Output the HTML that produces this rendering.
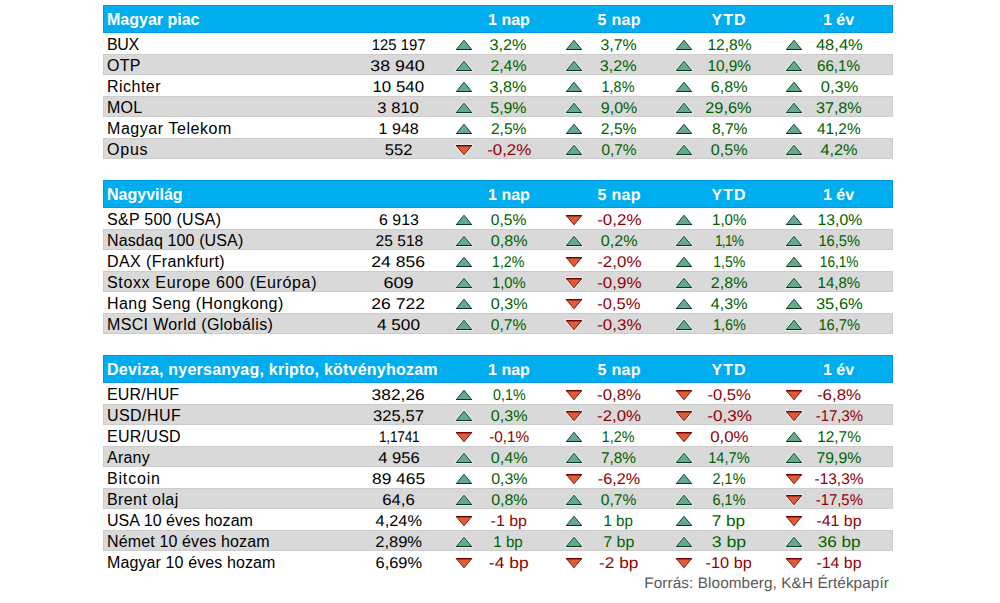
<!DOCTYPE html>
<html><head><meta charset="utf-8"><style>
*{margin:0;padding:0;box-sizing:border-box}
html,body{width:1000px;height:603px;background:#fff;overflow:hidden}
body{position:relative;font-family:"Liberation Sans",sans-serif;font-size:16px;color:#000}
.h{position:absolute;left:103px;width:790px;height:28px;background:#00aeef;border:1px solid #0097e6}
.g{position:absolute;left:103px;width:790px;height:21px;background:#d9d9d9;border:1px solid #cccccc}
.t{position:absolute;white-space:nowrap;line-height:20px;height:20px}
.c{width:200px;text-align:center;font-size:15.5px;text-rendering:geometricPrecision}
.b{font-weight:bold;color:#fff;font-size:16px}
.up{color:#006100}
.dn{color:#900005}
svg{position:absolute}
</style></head>
<body>
<div class="h" style="top:5px"></div>
<div class="t b" style="left:107px;top:10.46px;letter-spacing:0px">Magyar piac</div>
<div class="t c b" style="left:409px;top:11.46px;letter-spacing:0px;text-indent:0px">1 nap</div>
<div class="t c b" style="left:519px;top:11.46px;letter-spacing:0.3px;text-indent:0.3px">5 nap</div>
<div class="t c b" style="left:628.5px;top:11.46px;letter-spacing:1.0px;text-indent:1.0px">YTD</div>
<div class="t c b" style="left:738.5px;top:11.46px;letter-spacing:0px;text-indent:0px">1 év</div>
<div class="t" style="left:107px;top:35.26px;letter-spacing:-0.35px">BUX</div>
<div class="t c" style="left:298px;top:36.03px;transform-origin:100.50px 15.37px;transform:translateX(0.55px) scaleX(0.958)">125 197</div>
<svg style="left:455.00px;top:38px" width="18" height="14" viewBox="-1 -1 18 14"><path d="M8 1.2 L15.6 10.5 L0.4 10.5 Z" fill="none" stroke="#fff" stroke-opacity="0.55" stroke-width="2.6"/><path d="M8 1.2 L15.6 10.5 L0.4 10.5 Z" fill="#68a88c" stroke="#0b4f2e" stroke-width="1"/><path d="M0.2 10.5 H15.8" stroke="#003d20" stroke-width="1"/></svg>
<div class="t c up" style="left:409px;top:36.03px;transform-origin:100.50px 15.37px;transform:translateX(-1.05px) scaleX(1.049)">3,2%</div>
<svg style="left:565.00px;top:38px" width="18" height="14" viewBox="-1 -1 18 14"><path d="M8 1.2 L15.6 10.5 L0.4 10.5 Z" fill="none" stroke="#fff" stroke-opacity="0.55" stroke-width="2.6"/><path d="M8 1.2 L15.6 10.5 L0.4 10.5 Z" fill="#68a88c" stroke="#0b4f2e" stroke-width="1"/><path d="M0.2 10.5 H15.8" stroke="#003d20" stroke-width="1"/></svg>
<div class="t c up" style="left:519px;top:36.03px;transform-origin:100.50px 15.37px;transform:translateX(-0.50px) scaleX(1.023)">3,7%</div>
<svg style="left:675.00px;top:38px" width="18" height="14" viewBox="-1 -1 18 14"><path d="M8 1.2 L15.6 10.5 L0.4 10.5 Z" fill="none" stroke="#fff" stroke-opacity="0.55" stroke-width="2.6"/><path d="M8 1.2 L15.6 10.5 L0.4 10.5 Z" fill="#68a88c" stroke="#0b4f2e" stroke-width="1"/><path d="M0.2 10.5 H15.8" stroke="#003d20" stroke-width="1"/></svg>
<div class="t c up" style="left:628.5px;top:36.03px;transform-origin:100.00px 15.37px;transform:translateX(0.50px) scaleX(1.005)">12,8%</div>
<svg style="left:785.00px;top:38px" width="18" height="14" viewBox="-1 -1 18 14"><path d="M8 1.2 L15.6 10.5 L0.4 10.5 Z" fill="none" stroke="#fff" stroke-opacity="0.55" stroke-width="2.6"/><path d="M8 1.2 L15.6 10.5 L0.4 10.5 Z" fill="#68a88c" stroke="#0b4f2e" stroke-width="1"/><path d="M0.2 10.5 H15.8" stroke="#003d20" stroke-width="1"/></svg>
<div class="t c up" style="left:738.5px;top:36.03px;transform-origin:100.00px 15.37px;transform:translateX(0.35px) scaleX(1.067)">48,4%</div>
<div class="g" style="top:54px"></div>
<div class="t" style="left:107px;top:56.26px;letter-spacing:0.30px">OTP</div>
<div class="t c" style="left:298px;top:57.03px;transform-origin:100.50px 15.37px;transform:translateX(-0.40px) scaleX(1.145)">38 940</div>
<svg style="left:455.00px;top:59px" width="18" height="14" viewBox="-1 -1 18 14"><path d="M8 1.2 L15.6 10.5 L0.4 10.5 Z" fill="none" stroke="#fff" stroke-opacity="0.55" stroke-width="2.6"/><path d="M8 1.2 L15.6 10.5 L0.4 10.5 Z" fill="#68a88c" stroke="#0b4f2e" stroke-width="1"/><path d="M0.2 10.5 H15.8" stroke="#003d20" stroke-width="1"/></svg>
<div class="t c up" style="left:409px;top:57.03px;transform-origin:100.00px 15.37px;transform:translateX(-0.55px) scaleX(1.019)">2,4%</div>
<svg style="left:565.00px;top:59px" width="18" height="14" viewBox="-1 -1 18 14"><path d="M8 1.2 L15.6 10.5 L0.4 10.5 Z" fill="none" stroke="#fff" stroke-opacity="0.55" stroke-width="2.6"/><path d="M8 1.2 L15.6 10.5 L0.4 10.5 Z" fill="#68a88c" stroke="#0b4f2e" stroke-width="1"/><path d="M0.2 10.5 H15.8" stroke="#003d20" stroke-width="1"/></svg>
<div class="t c up" style="left:519px;top:57.03px;transform-origin:100.50px 15.37px;transform:translateX(-0.80px) scaleX(1.040)">3,2%</div>
<svg style="left:675.00px;top:59px" width="18" height="14" viewBox="-1 -1 18 14"><path d="M8 1.2 L15.6 10.5 L0.4 10.5 Z" fill="none" stroke="#fff" stroke-opacity="0.55" stroke-width="2.6"/><path d="M8 1.2 L15.6 10.5 L0.4 10.5 Z" fill="#68a88c" stroke="#0b4f2e" stroke-width="1"/><path d="M0.2 10.5 H15.8" stroke="#003d20" stroke-width="1"/></svg>
<div class="t c up" style="left:628.5px;top:57.03px;transform-origin:100.50px 15.37px;transform:translateX(0.20px) scaleX(0.991)">10,9%</div>
<svg style="left:785.00px;top:59px" width="18" height="14" viewBox="-1 -1 18 14"><path d="M8 1.2 L15.6 10.5 L0.4 10.5 Z" fill="none" stroke="#fff" stroke-opacity="0.55" stroke-width="2.6"/><path d="M8 1.2 L15.6 10.5 L0.4 10.5 Z" fill="#68a88c" stroke="#0b4f2e" stroke-width="1"/><path d="M0.2 10.5 H15.8" stroke="#003d20" stroke-width="1"/></svg>
<div class="t c up" style="left:738.5px;top:57.03px;transform-origin:100.50px 15.37px;transform:translateX(-0.50px) scaleX(0.982)">66,1%</div>
<div class="t" style="left:107px;top:77.26px;letter-spacing:0.48px">Richter</div>
<div class="t c" style="left:298px;top:78.03px;transform-origin:100.00px 15.37px;transform:translateX(0.25px) scaleX(1.089)">10 540</div>
<svg style="left:455.00px;top:80px" width="18" height="14" viewBox="-1 -1 18 14"><path d="M8 1.2 L15.6 10.5 L0.4 10.5 Z" fill="none" stroke="#fff" stroke-opacity="0.55" stroke-width="2.6"/><path d="M8 1.2 L15.6 10.5 L0.4 10.5 Z" fill="#68a88c" stroke="#0b4f2e" stroke-width="1"/><path d="M0.2 10.5 H15.8" stroke="#003d20" stroke-width="1"/></svg>
<div class="t c up" style="left:409px;top:78.03px;transform-origin:100.50px 15.37px;transform:translateX(-1.05px) scaleX(1.049)">3,8%</div>
<svg style="left:565.00px;top:80px" width="18" height="14" viewBox="-1 -1 18 14"><path d="M8 1.2 L15.6 10.5 L0.4 10.5 Z" fill="none" stroke="#fff" stroke-opacity="0.55" stroke-width="2.6"/><path d="M8 1.2 L15.6 10.5 L0.4 10.5 Z" fill="#68a88c" stroke="#0b4f2e" stroke-width="1"/><path d="M0.2 10.5 H15.8" stroke="#003d20" stroke-width="1"/></svg>
<div class="t c up" style="left:519px;top:78.03px;transform-origin:100.50px 15.37px;transform:translateX(-1.00px) scaleX(0.931)">1,8%</div>
<svg style="left:675.00px;top:80px" width="18" height="14" viewBox="-1 -1 18 14"><path d="M8 1.2 L15.6 10.5 L0.4 10.5 Z" fill="none" stroke="#fff" stroke-opacity="0.55" stroke-width="2.6"/><path d="M8 1.2 L15.6 10.5 L0.4 10.5 Z" fill="#68a88c" stroke="#0b4f2e" stroke-width="1"/><path d="M0.2 10.5 H15.8" stroke="#003d20" stroke-width="1"/></svg>
<div class="t c up" style="left:628.5px;top:78.03px;transform-origin:100.00px 15.37px;transform:translateX(0.15px) scaleX(1.037)">6,8%</div>
<svg style="left:785.00px;top:80px" width="18" height="14" viewBox="-1 -1 18 14"><path d="M8 1.2 L15.6 10.5 L0.4 10.5 Z" fill="none" stroke="#fff" stroke-opacity="0.55" stroke-width="2.6"/><path d="M8 1.2 L15.6 10.5 L0.4 10.5 Z" fill="#68a88c" stroke="#0b4f2e" stroke-width="1"/><path d="M0.2 10.5 H15.8" stroke="#003d20" stroke-width="1"/></svg>
<div class="t c up" style="left:738.5px;top:78.03px;transform-origin:100.00px 15.37px;transform:translateX(0.55px) scaleX(1.060)">0,3%</div>
<div class="g" style="top:96px"></div>
<div class="t" style="left:107px;top:98.26px;letter-spacing:0.25px">MOL</div>
<div class="t c" style="left:298px;top:99.03px;transform-origin:100.00px 15.37px;transform:translateX(0.10px) scaleX(1.068)">3 810</div>
<svg style="left:455.00px;top:101px" width="18" height="14" viewBox="-1 -1 18 14"><path d="M8 1.2 L15.6 10.5 L0.4 10.5 Z" fill="none" stroke="#fff" stroke-opacity="0.55" stroke-width="2.6"/><path d="M8 1.2 L15.6 10.5 L0.4 10.5 Z" fill="#68a88c" stroke="#0b4f2e" stroke-width="1"/><path d="M0.2 10.5 H15.8" stroke="#003d20" stroke-width="1"/></svg>
<div class="t c up" style="left:409px;top:99.03px;transform-origin:100.50px 15.37px;transform:translateX(-0.60px) scaleX(1.023)">5,9%</div>
<svg style="left:565.00px;top:101px" width="18" height="14" viewBox="-1 -1 18 14"><path d="M8 1.2 L15.6 10.5 L0.4 10.5 Z" fill="none" stroke="#fff" stroke-opacity="0.55" stroke-width="2.6"/><path d="M8 1.2 L15.6 10.5 L0.4 10.5 Z" fill="#68a88c" stroke="#0b4f2e" stroke-width="1"/><path d="M0.2 10.5 H15.8" stroke="#003d20" stroke-width="1"/></svg>
<div class="t c up" style="left:519px;top:99.03px;transform-origin:100.00px 15.37px;transform:translateX(0.05px) scaleX(1.031)">9,0%</div>
<svg style="left:675.00px;top:101px" width="18" height="14" viewBox="-1 -1 18 14"><path d="M8 1.2 L15.6 10.5 L0.4 10.5 Z" fill="none" stroke="#fff" stroke-opacity="0.55" stroke-width="2.6"/><path d="M8 1.2 L15.6 10.5 L0.4 10.5 Z" fill="#68a88c" stroke="#0b4f2e" stroke-width="1"/><path d="M0.2 10.5 H15.8" stroke="#003d20" stroke-width="1"/></svg>
<div class="t c up" style="left:628.5px;top:99.03px;transform-origin:100.50px 15.37px;transform:translateX(-0.55px) scaleX(1.052)">29,6%</div>
<svg style="left:785.00px;top:101px" width="18" height="14" viewBox="-1 -1 18 14"><path d="M8 1.2 L15.6 10.5 L0.4 10.5 Z" fill="none" stroke="#fff" stroke-opacity="0.55" stroke-width="2.6"/><path d="M8 1.2 L15.6 10.5 L0.4 10.5 Z" fill="#68a88c" stroke="#0b4f2e" stroke-width="1"/><path d="M0.2 10.5 H15.8" stroke="#003d20" stroke-width="1"/></svg>
<div class="t c up" style="left:738.5px;top:99.03px;transform-origin:100.50px 15.37px;transform:translateX(-0.15px) scaleX(1.043)">37,8%</div>
<div class="t" style="left:107px;top:119.26px;letter-spacing:0.56px">Magyar Telekom</div>
<div class="t c" style="left:298px;top:120.03px;transform-origin:100.00px 15.37px;transform:translateX(0.70px) scaleX(1.037)">1 948</div>
<svg style="left:455.00px;top:122px" width="18" height="14" viewBox="-1 -1 18 14"><path d="M8 1.2 L15.6 10.5 L0.4 10.5 Z" fill="none" stroke="#fff" stroke-opacity="0.55" stroke-width="2.6"/><path d="M8 1.2 L15.6 10.5 L0.4 10.5 Z" fill="#68a88c" stroke="#0b4f2e" stroke-width="1"/><path d="M0.2 10.5 H15.8" stroke="#003d20" stroke-width="1"/></svg>
<div class="t c up" style="left:409px;top:120.03px;transform-origin:100.50px 15.37px;transform:translateX(-0.30px) scaleX(1.006)">2,5%</div>
<svg style="left:565.00px;top:122px" width="18" height="14" viewBox="-1 -1 18 14"><path d="M8 1.2 L15.6 10.5 L0.4 10.5 Z" fill="none" stroke="#fff" stroke-opacity="0.55" stroke-width="2.6"/><path d="M8 1.2 L15.6 10.5 L0.4 10.5 Z" fill="#68a88c" stroke="#0b4f2e" stroke-width="1"/><path d="M0.2 10.5 H15.8" stroke="#003d20" stroke-width="1"/></svg>
<div class="t c up" style="left:519px;top:120.03px;transform-origin:100.50px 15.37px;transform:translateX(-0.30px) scaleX(1.011)">2,5%</div>
<svg style="left:675.00px;top:122px" width="18" height="14" viewBox="-1 -1 18 14"><path d="M8 1.2 L15.6 10.5 L0.4 10.5 Z" fill="none" stroke="#fff" stroke-opacity="0.55" stroke-width="2.6"/><path d="M8 1.2 L15.6 10.5 L0.4 10.5 Z" fill="#68a88c" stroke="#0b4f2e" stroke-width="1"/><path d="M0.2 10.5 H15.8" stroke="#003d20" stroke-width="1"/></svg>
<div class="t c up" style="left:628.5px;top:120.03px;transform-origin:100.00px 15.37px;transform:translateX(0.70px) scaleX(1.006)">8,7%</div>
<svg style="left:785.00px;top:122px" width="18" height="14" viewBox="-1 -1 18 14"><path d="M8 1.2 L15.6 10.5 L0.4 10.5 Z" fill="none" stroke="#fff" stroke-opacity="0.55" stroke-width="2.6"/><path d="M8 1.2 L15.6 10.5 L0.4 10.5 Z" fill="#68a88c" stroke="#0b4f2e" stroke-width="1"/><path d="M0.2 10.5 H15.8" stroke="#003d20" stroke-width="1"/></svg>
<div class="t c up" style="left:738.5px;top:120.03px;transform-origin:100.00px 15.37px;transform:translateX(-0.20px) scaleX(0.995)">41,2%</div>
<div class="g" style="top:138px"></div>
<div class="t" style="left:107px;top:140.26px;letter-spacing:0.77px">Opus</div>
<div class="t c" style="left:298px;top:141.03px;transform-origin:100.00px 15.37px;transform:translateX(0.60px) scaleX(1.069)">552</div>
<svg style="left:455.00px;top:143px" width="18" height="14" viewBox="-1 -1 18 14"><path d="M0.4 1.6 L15.6 1.6 L8 10.8 Z" fill="none" stroke="#f4ffff" stroke-opacity="0.7" stroke-width="2.8"/><path d="M0.4 1.6 L15.6 1.6 L8 10.8 Z" fill="#de5c38" stroke="#7e1608" stroke-width="1"/><path d="M0.2 1.7 H15.8" stroke="#700000" stroke-width="1.35"/></svg>
<div class="t c dn" style="left:409px;top:141.03px;transform-origin:100.00px 15.37px;transform:translateX(0.20px) scaleX(1.090)">-0,2%</div>
<svg style="left:565.00px;top:143px" width="18" height="14" viewBox="-1 -1 18 14"><path d="M8 1.2 L15.6 10.5 L0.4 10.5 Z" fill="none" stroke="#fff" stroke-opacity="0.55" stroke-width="2.6"/><path d="M8 1.2 L15.6 10.5 L0.4 10.5 Z" fill="#68a88c" stroke="#0b4f2e" stroke-width="1"/><path d="M0.2 10.5 H15.8" stroke="#003d20" stroke-width="1"/></svg>
<div class="t c up" style="left:519px;top:141.03px;transform-origin:100.00px 15.37px;transform:translateX(0.00px) scaleX(0.994)">0,7%</div>
<svg style="left:675.00px;top:143px" width="18" height="14" viewBox="-1 -1 18 14"><path d="M8 1.2 L15.6 10.5 L0.4 10.5 Z" fill="none" stroke="#fff" stroke-opacity="0.55" stroke-width="2.6"/><path d="M8 1.2 L15.6 10.5 L0.4 10.5 Z" fill="#68a88c" stroke="#0b4f2e" stroke-width="1"/><path d="M0.2 10.5 H15.8" stroke="#003d20" stroke-width="1"/></svg>
<div class="t c up" style="left:628.5px;top:141.03px;transform-origin:100.00px 15.37px;transform:translateX(0.15px) scaleX(1.037)">0,5%</div>
<svg style="left:785.00px;top:143px" width="18" height="14" viewBox="-1 -1 18 14"><path d="M8 1.2 L15.6 10.5 L0.4 10.5 Z" fill="none" stroke="#fff" stroke-opacity="0.55" stroke-width="2.6"/><path d="M8 1.2 L15.6 10.5 L0.4 10.5 Z" fill="#68a88c" stroke="#0b4f2e" stroke-width="1"/><path d="M0.2 10.5 H15.8" stroke="#003d20" stroke-width="1"/></svg>
<div class="t c up" style="left:738.5px;top:141.03px;transform-origin:100.00px 15.37px;transform:translateX(0.00px) scaleX(1.051)">4,2%</div>
<div class="h" style="top:180px"></div>
<div class="t b" style="left:107px;top:185.46px;letter-spacing:0px">Nagyvilág</div>
<div class="t c b" style="left:409px;top:186.46px;letter-spacing:0px;text-indent:0px">1 nap</div>
<div class="t c b" style="left:519px;top:186.46px;letter-spacing:0.3px;text-indent:0.3px">5 nap</div>
<div class="t c b" style="left:628.5px;top:186.46px;letter-spacing:1.0px;text-indent:1.0px">YTD</div>
<div class="t c b" style="left:738.5px;top:186.46px;letter-spacing:0px;text-indent:0px">1 év</div>
<div class="t" style="left:107px;top:210.26px;letter-spacing:0.27px">S&amp;P 500 (USA)</div>
<div class="t c" style="left:298px;top:211.03px;transform-origin:100.00px 15.37px;transform:translateX(0.95px) scaleX(1.024)">6 913</div>
<svg style="left:455.00px;top:213px" width="18" height="14" viewBox="-1 -1 18 14"><path d="M8 1.2 L15.6 10.5 L0.4 10.5 Z" fill="none" stroke="#fff" stroke-opacity="0.55" stroke-width="2.6"/><path d="M8 1.2 L15.6 10.5 L0.4 10.5 Z" fill="#68a88c" stroke="#0b4f2e" stroke-width="1"/><path d="M0.2 10.5 H15.8" stroke="#003d20" stroke-width="1"/></svg>
<div class="t c up" style="left:409px;top:211.03px;transform-origin:100.00px 15.37px;transform:translateX(-0.35px) scaleX(1.008)">0,5%</div>
<svg style="left:565.00px;top:213px" width="18" height="14" viewBox="-1 -1 18 14"><path d="M0.4 1.6 L15.6 1.6 L8 10.8 Z" fill="none" stroke="#f4ffff" stroke-opacity="0.7" stroke-width="2.8"/><path d="M0.4 1.6 L15.6 1.6 L8 10.8 Z" fill="#de5c38" stroke="#7e1608" stroke-width="1"/><path d="M0.2 1.7 H15.8" stroke="#700000" stroke-width="1.35"/></svg>
<div class="t c dn" style="left:519px;top:211.03px;transform-origin:100.00px 15.37px;transform:translateX(0.35px) scaleX(1.093)">-0,2%</div>
<svg style="left:675.00px;top:213px" width="18" height="14" viewBox="-1 -1 18 14"><path d="M8 1.2 L15.6 10.5 L0.4 10.5 Z" fill="none" stroke="#fff" stroke-opacity="0.55" stroke-width="2.6"/><path d="M8 1.2 L15.6 10.5 L0.4 10.5 Z" fill="#68a88c" stroke="#0b4f2e" stroke-width="1"/><path d="M0.2 10.5 H15.8" stroke="#003d20" stroke-width="1"/></svg>
<div class="t c up" style="left:628.5px;top:211.03px;transform-origin:100.50px 15.37px;transform:translateX(0.25px) scaleX(0.979)">1,0%</div>
<svg style="left:785.00px;top:213px" width="18" height="14" viewBox="-1 -1 18 14"><path d="M8 1.2 L15.6 10.5 L0.4 10.5 Z" fill="none" stroke="#fff" stroke-opacity="0.55" stroke-width="2.6"/><path d="M8 1.2 L15.6 10.5 L0.4 10.5 Z" fill="#68a88c" stroke="#0b4f2e" stroke-width="1"/><path d="M0.2 10.5 H15.8" stroke="#003d20" stroke-width="1"/></svg>
<div class="t c up" style="left:738.5px;top:211.03px;transform-origin:100.00px 15.37px;transform:translateX(0.85px) scaleX(1.016)">13,0%</div>
<div class="g" style="top:229px"></div>
<div class="t" style="left:107px;top:231.26px;letter-spacing:0.13px">Nasdaq 100 (USA)</div>
<div class="t c" style="left:298px;top:232.03px;transform-origin:99.50px 15.37px;transform:translateX(1.45px) scaleX(1.006)">25 518</div>
<svg style="left:455.00px;top:234px" width="18" height="14" viewBox="-1 -1 18 14"><path d="M8 1.2 L15.6 10.5 L0.4 10.5 Z" fill="none" stroke="#fff" stroke-opacity="0.55" stroke-width="2.6"/><path d="M8 1.2 L15.6 10.5 L0.4 10.5 Z" fill="#68a88c" stroke="#0b4f2e" stroke-width="1"/><path d="M0.2 10.5 H15.8" stroke="#003d20" stroke-width="1"/></svg>
<div class="t c up" style="left:409px;top:232.03px;transform-origin:100.00px 15.37px;transform:translateX(0.25px) scaleX(1.042)">0,8%</div>
<svg style="left:565.00px;top:234px" width="18" height="14" viewBox="-1 -1 18 14"><path d="M8 1.2 L15.6 10.5 L0.4 10.5 Z" fill="none" stroke="#fff" stroke-opacity="0.55" stroke-width="2.6"/><path d="M8 1.2 L15.6 10.5 L0.4 10.5 Z" fill="#68a88c" stroke="#0b4f2e" stroke-width="1"/><path d="M0.2 10.5 H15.8" stroke="#003d20" stroke-width="1"/></svg>
<div class="t c up" style="left:519px;top:232.03px;transform-origin:100.00px 15.37px;transform:translateX(0.25px) scaleX(1.042)">0,2%</div>
<svg style="left:675.00px;top:234px" width="18" height="14" viewBox="-1 -1 18 14"><path d="M8 1.2 L15.6 10.5 L0.4 10.5 Z" fill="none" stroke="#fff" stroke-opacity="0.55" stroke-width="2.6"/><path d="M8 1.2 L15.6 10.5 L0.4 10.5 Z" fill="#68a88c" stroke="#0b4f2e" stroke-width="1"/><path d="M0.2 10.5 H15.8" stroke="#003d20" stroke-width="1"/></svg>
<div class="t c up" style="left:628.5px;top:232.03px;transform-origin:100.44px 15.37px;transform:translateX(0.01px) scaleX(0.880);letter-spacing:-0.87px">1,1%</div>
<svg style="left:785.00px;top:234px" width="18" height="14" viewBox="-1 -1 18 14"><path d="M8 1.2 L15.6 10.5 L0.4 10.5 Z" fill="none" stroke="#fff" stroke-opacity="0.55" stroke-width="2.6"/><path d="M8 1.2 L15.6 10.5 L0.4 10.5 Z" fill="#68a88c" stroke="#0b4f2e" stroke-width="1"/><path d="M0.2 10.5 H15.8" stroke="#003d20" stroke-width="1"/></svg>
<div class="t c up" style="left:738.5px;top:232.03px;transform-origin:100.50px 15.37px;transform:translateX(0.25px) scaleX(0.948)">16,5%</div>
<div class="t" style="left:107px;top:252.26px;letter-spacing:0.40px">DAX (Frankfurt)</div>
<div class="t c" style="left:298px;top:253.03px;transform-origin:100.00px 15.37px;transform:translateX(0.10px) scaleX(1.130)">24 856</div>
<svg style="left:455.00px;top:255px" width="18" height="14" viewBox="-1 -1 18 14"><path d="M8 1.2 L15.6 10.5 L0.4 10.5 Z" fill="none" stroke="#fff" stroke-opacity="0.55" stroke-width="2.6"/><path d="M8 1.2 L15.6 10.5 L0.4 10.5 Z" fill="#68a88c" stroke="#0b4f2e" stroke-width="1"/><path d="M0.2 10.5 H15.8" stroke="#003d20" stroke-width="1"/></svg>
<div class="t c up" style="left:409px;top:253.03px;transform-origin:100.50px 15.37px;transform:translateX(-0.85px) scaleX(0.917)">1,2%</div>
<svg style="left:565.00px;top:255px" width="18" height="14" viewBox="-1 -1 18 14"><path d="M0.4 1.6 L15.6 1.6 L8 10.8 Z" fill="none" stroke="#f4ffff" stroke-opacity="0.7" stroke-width="2.8"/><path d="M0.4 1.6 L15.6 1.6 L8 10.8 Z" fill="#de5c38" stroke="#7e1608" stroke-width="1"/><path d="M0.2 1.7 H15.8" stroke="#700000" stroke-width="1.35"/></svg>
<div class="t c dn" style="left:519px;top:253.03px;transform-origin:100.00px 15.37px;transform:translateX(0.35px) scaleX(1.093)">-2,0%</div>
<svg style="left:675.00px;top:255px" width="18" height="14" viewBox="-1 -1 18 14"><path d="M8 1.2 L15.6 10.5 L0.4 10.5 Z" fill="none" stroke="#fff" stroke-opacity="0.55" stroke-width="2.6"/><path d="M8 1.2 L15.6 10.5 L0.4 10.5 Z" fill="#68a88c" stroke="#0b4f2e" stroke-width="1"/><path d="M0.2 10.5 H15.8" stroke="#003d20" stroke-width="1"/></svg>
<div class="t c up" style="left:628.5px;top:253.03px;transform-origin:100.50px 15.37px;transform:translateX(0.20px) scaleX(0.912)">1,5%</div>
<svg style="left:785.00px;top:255px" width="18" height="14" viewBox="-1 -1 18 14"><path d="M8 1.2 L15.6 10.5 L0.4 10.5 Z" fill="none" stroke="#fff" stroke-opacity="0.55" stroke-width="2.6"/><path d="M8 1.2 L15.6 10.5 L0.4 10.5 Z" fill="#68a88c" stroke="#0b4f2e" stroke-width="1"/><path d="M0.2 10.5 H15.8" stroke="#003d20" stroke-width="1"/></svg>
<div class="t c up" style="left:738.5px;top:253.03px;transform-origin:100.00px 15.37px;transform:translateX(0.15px) scaleX(0.881)">16,1%</div>
<div class="g" style="top:271px"></div>
<div class="t" style="left:107px;top:273.26px;letter-spacing:0.65px">Stoxx Europe 600 (Európa)</div>
<div class="t c" style="left:298px;top:274.03px;transform-origin:100.00px 15.37px;transform:translateX(0.45px) scaleX(1.165)">609</div>
<svg style="left:455.00px;top:276px" width="18" height="14" viewBox="-1 -1 18 14"><path d="M8 1.2 L15.6 10.5 L0.4 10.5 Z" fill="none" stroke="#fff" stroke-opacity="0.55" stroke-width="2.6"/><path d="M8 1.2 L15.6 10.5 L0.4 10.5 Z" fill="#68a88c" stroke="#0b4f2e" stroke-width="1"/><path d="M0.2 10.5 H15.8" stroke="#003d20" stroke-width="1"/></svg>
<div class="t c up" style="left:409px;top:274.03px;transform-origin:100.50px 15.37px;transform:translateX(-0.25px) scaleX(0.951)">1,0%</div>
<svg style="left:565.00px;top:276px" width="18" height="14" viewBox="-1 -1 18 14"><path d="M0.4 1.6 L15.6 1.6 L8 10.8 Z" fill="none" stroke="#f4ffff" stroke-opacity="0.7" stroke-width="2.8"/><path d="M0.4 1.6 L15.6 1.6 L8 10.8 Z" fill="#de5c38" stroke="#7e1608" stroke-width="1"/><path d="M0.2 1.7 H15.8" stroke="#700000" stroke-width="1.35"/></svg>
<div class="t c dn" style="left:519px;top:274.03px;transform-origin:100.00px 15.37px;transform:translateX(0.35px) scaleX(1.093)">-0,9%</div>
<svg style="left:675.00px;top:276px" width="18" height="14" viewBox="-1 -1 18 14"><path d="M8 1.2 L15.6 10.5 L0.4 10.5 Z" fill="none" stroke="#fff" stroke-opacity="0.55" stroke-width="2.6"/><path d="M8 1.2 L15.6 10.5 L0.4 10.5 Z" fill="#68a88c" stroke="#0b4f2e" stroke-width="1"/><path d="M0.2 10.5 H15.8" stroke="#003d20" stroke-width="1"/></svg>
<div class="t c up" style="left:628.5px;top:274.03px;transform-origin:100.00px 15.37px;transform:translateX(0.15px) scaleX(1.037)">2,8%</div>
<svg style="left:785.00px;top:276px" width="18" height="14" viewBox="-1 -1 18 14"><path d="M8 1.2 L15.6 10.5 L0.4 10.5 Z" fill="none" stroke="#fff" stroke-opacity="0.55" stroke-width="2.6"/><path d="M8 1.2 L15.6 10.5 L0.4 10.5 Z" fill="#68a88c" stroke="#0b4f2e" stroke-width="1"/><path d="M0.2 10.5 H15.8" stroke="#003d20" stroke-width="1"/></svg>
<div class="t c up" style="left:738.5px;top:274.03px;transform-origin:100.50px 15.37px;transform:translateX(-0.20px) scaleX(0.968)">14,8%</div>
<div class="t" style="left:107px;top:294.26px;letter-spacing:0.43px">Hang Seng (Hongkong)</div>
<div class="t c" style="left:298px;top:295.03px;transform-origin:100.00px 15.37px;transform:translateX(0.10px) scaleX(1.130)">26 722</div>
<svg style="left:455.00px;top:297px" width="18" height="14" viewBox="-1 -1 18 14"><path d="M8 1.2 L15.6 10.5 L0.4 10.5 Z" fill="none" stroke="#fff" stroke-opacity="0.55" stroke-width="2.6"/><path d="M8 1.2 L15.6 10.5 L0.4 10.5 Z" fill="#68a88c" stroke="#0b4f2e" stroke-width="1"/><path d="M0.2 10.5 H15.8" stroke="#003d20" stroke-width="1"/></svg>
<div class="t c up" style="left:409px;top:295.03px;transform-origin:100.00px 15.37px;transform:translateX(0.25px) scaleX(1.042)">0,3%</div>
<svg style="left:565.00px;top:297px" width="18" height="14" viewBox="-1 -1 18 14"><path d="M0.4 1.6 L15.6 1.6 L8 10.8 Z" fill="none" stroke="#f4ffff" stroke-opacity="0.7" stroke-width="2.8"/><path d="M0.4 1.6 L15.6 1.6 L8 10.8 Z" fill="#de5c38" stroke="#7e1608" stroke-width="1"/><path d="M0.2 1.7 H15.8" stroke="#700000" stroke-width="1.35"/></svg>
<div class="t c dn" style="left:519px;top:295.03px;transform-origin:100.00px 15.37px;transform:translateX(-0.20px) scaleX(1.065)">-0,5%</div>
<svg style="left:675.00px;top:297px" width="18" height="14" viewBox="-1 -1 18 14"><path d="M8 1.2 L15.6 10.5 L0.4 10.5 Z" fill="none" stroke="#fff" stroke-opacity="0.55" stroke-width="2.6"/><path d="M8 1.2 L15.6 10.5 L0.4 10.5 Z" fill="#68a88c" stroke="#0b4f2e" stroke-width="1"/><path d="M0.2 10.5 H15.8" stroke="#003d20" stroke-width="1"/></svg>
<div class="t c up" style="left:628.5px;top:295.03px;transform-origin:100.00px 15.37px;transform:translateX(0.15px) scaleX(1.037)">4,3%</div>
<svg style="left:785.00px;top:297px" width="18" height="14" viewBox="-1 -1 18 14"><path d="M8 1.2 L15.6 10.5 L0.4 10.5 Z" fill="none" stroke="#fff" stroke-opacity="0.55" stroke-width="2.6"/><path d="M8 1.2 L15.6 10.5 L0.4 10.5 Z" fill="#68a88c" stroke="#0b4f2e" stroke-width="1"/><path d="M0.2 10.5 H15.8" stroke="#003d20" stroke-width="1"/></svg>
<div class="t c up" style="left:738.5px;top:295.03px;transform-origin:100.00px 15.37px;transform:translateX(0.35px) scaleX(1.067)">35,6%</div>
<div class="g" style="top:313px"></div>
<div class="t" style="left:107px;top:315.26px;letter-spacing:0.35px">MSCI World (Globális)</div>
<div class="t c" style="left:298px;top:316.03px;transform-origin:99.50px 15.37px;transform:translateX(0.40px) scaleX(1.108)">4 500</div>
<svg style="left:455.00px;top:318px" width="18" height="14" viewBox="-1 -1 18 14"><path d="M8 1.2 L15.6 10.5 L0.4 10.5 Z" fill="none" stroke="#fff" stroke-opacity="0.55" stroke-width="2.6"/><path d="M8 1.2 L15.6 10.5 L0.4 10.5 Z" fill="#68a88c" stroke="#0b4f2e" stroke-width="1"/><path d="M0.2 10.5 H15.8" stroke="#003d20" stroke-width="1"/></svg>
<div class="t c up" style="left:409px;top:316.03px;transform-origin:100.00px 15.37px;transform:translateX(-0.35px) scaleX(1.008)">0,7%</div>
<svg style="left:565.00px;top:318px" width="18" height="14" viewBox="-1 -1 18 14"><path d="M0.4 1.6 L15.6 1.6 L8 10.8 Z" fill="none" stroke="#f4ffff" stroke-opacity="0.7" stroke-width="2.8"/><path d="M0.4 1.6 L15.6 1.6 L8 10.8 Z" fill="#de5c38" stroke="#7e1608" stroke-width="1"/><path d="M0.2 1.7 H15.8" stroke="#700000" stroke-width="1.35"/></svg>
<div class="t c dn" style="left:519px;top:316.03px;transform-origin:100.00px 15.37px;transform:translateX(0.35px) scaleX(1.093)">-0,3%</div>
<svg style="left:675.00px;top:318px" width="18" height="14" viewBox="-1 -1 18 14"><path d="M8 1.2 L15.6 10.5 L0.4 10.5 Z" fill="none" stroke="#fff" stroke-opacity="0.55" stroke-width="2.6"/><path d="M8 1.2 L15.6 10.5 L0.4 10.5 Z" fill="#68a88c" stroke="#0b4f2e" stroke-width="1"/><path d="M0.2 10.5 H15.8" stroke="#003d20" stroke-width="1"/></svg>
<div class="t c up" style="left:628.5px;top:316.03px;transform-origin:100.00px 15.37px;transform:translateX(0.45px) scaleX(0.934)">1,6%</div>
<svg style="left:785.00px;top:318px" width="18" height="14" viewBox="-1 -1 18 14"><path d="M8 1.2 L15.6 10.5 L0.4 10.5 Z" fill="none" stroke="#fff" stroke-opacity="0.55" stroke-width="2.6"/><path d="M8 1.2 L15.6 10.5 L0.4 10.5 Z" fill="#68a88c" stroke="#0b4f2e" stroke-width="1"/><path d="M0.2 10.5 H15.8" stroke="#003d20" stroke-width="1"/></svg>
<div class="t c up" style="left:738.5px;top:316.03px;transform-origin:100.50px 15.37px;transform:translateX(0.25px) scaleX(0.948)">16,7%</div>
<div class="h" style="top:355px"></div>
<div class="t b" style="left:107px;top:360.46px;letter-spacing:0.22px">Deviza, nyersanyag, kripto, kötvényhozam</div>
<div class="t c b" style="left:409px;top:361.46px;letter-spacing:0px;text-indent:0px">1 nap</div>
<div class="t c b" style="left:519px;top:361.46px;letter-spacing:0.3px;text-indent:0.3px">5 nap</div>
<div class="t c b" style="left:628.5px;top:361.46px;letter-spacing:1.0px;text-indent:1.0px">YTD</div>
<div class="t c b" style="left:738.5px;top:361.46px;letter-spacing:0px;text-indent:0px">1 év</div>
<div class="t" style="left:107px;top:385.26px;letter-spacing:0.17px">EUR/HUF</div>
<div class="t c" style="left:298px;top:386.03px;transform-origin:100.00px 15.37px;transform:translateX(0.20px) scaleX(1.122)">382,26</div>
<svg style="left:455.00px;top:388px" width="18" height="14" viewBox="-1 -1 18 14"><path d="M8 1.2 L15.6 10.5 L0.4 10.5 Z" fill="none" stroke="#fff" stroke-opacity="0.55" stroke-width="2.6"/><path d="M8 1.2 L15.6 10.5 L0.4 10.5 Z" fill="#68a88c" stroke="#0b4f2e" stroke-width="1"/><path d="M0.2 10.5 H15.8" stroke="#003d20" stroke-width="1"/></svg>
<div class="t c up" style="left:409px;top:386.03px;transform-origin:100.00px 15.37px;transform:translateX(0.35px) scaleX(0.919)">0,1%</div>
<svg style="left:565.00px;top:388px" width="18" height="14" viewBox="-1 -1 18 14"><path d="M0.4 1.6 L15.6 1.6 L8 10.8 Z" fill="none" stroke="#f4ffff" stroke-opacity="0.7" stroke-width="2.8"/><path d="M0.4 1.6 L15.6 1.6 L8 10.8 Z" fill="#de5c38" stroke="#7e1608" stroke-width="1"/><path d="M0.2 1.7 H15.8" stroke="#700000" stroke-width="1.35"/></svg>
<div class="t c dn" style="left:519px;top:386.03px;transform-origin:100.00px 15.37px;transform:translateX(0.00px) scaleX(1.085)">-0,8%</div>
<svg style="left:675.00px;top:388px" width="18" height="14" viewBox="-1 -1 18 14"><path d="M0.4 1.6 L15.6 1.6 L8 10.8 Z" fill="none" stroke="#f4ffff" stroke-opacity="0.7" stroke-width="2.8"/><path d="M0.4 1.6 L15.6 1.6 L8 10.8 Z" fill="#de5c38" stroke="#7e1608" stroke-width="1"/><path d="M0.2 1.7 H15.8" stroke="#700000" stroke-width="1.35"/></svg>
<div class="t c dn" style="left:628.5px;top:386.03px;transform-origin:100.00px 15.37px;transform:translateX(0.15px) scaleX(1.074)">-0,5%</div>
<svg style="left:785.00px;top:388px" width="18" height="14" viewBox="-1 -1 18 14"><path d="M0.4 1.6 L15.6 1.6 L8 10.8 Z" fill="none" stroke="#f4ffff" stroke-opacity="0.7" stroke-width="2.8"/><path d="M0.4 1.6 L15.6 1.6 L8 10.8 Z" fill="#de5c38" stroke="#7e1608" stroke-width="1"/><path d="M0.2 1.7 H15.8" stroke="#700000" stroke-width="1.35"/></svg>
<div class="t c dn" style="left:738.5px;top:386.03px;transform-origin:100.00px 15.37px;transform:translateX(0.05px) scaleX(1.090)">-6,8%</div>
<div class="g" style="top:404px"></div>
<div class="t" style="left:107px;top:406.26px;letter-spacing:0.43px">USD/HUF</div>
<div class="t c" style="left:298px;top:407.03px;transform-origin:100.00px 15.37px;transform:translateX(0.55px) scaleX(1.072)">325,57</div>
<svg style="left:455.00px;top:409px" width="18" height="14" viewBox="-1 -1 18 14"><path d="M8 1.2 L15.6 10.5 L0.4 10.5 Z" fill="none" stroke="#fff" stroke-opacity="0.55" stroke-width="2.6"/><path d="M8 1.2 L15.6 10.5 L0.4 10.5 Z" fill="#68a88c" stroke="#0b4f2e" stroke-width="1"/><path d="M0.2 10.5 H15.8" stroke="#003d20" stroke-width="1"/></svg>
<div class="t c up" style="left:409px;top:407.03px;transform-origin:100.00px 15.37px;transform:translateX(0.20px) scaleX(1.039)">0,3%</div>
<svg style="left:565.00px;top:409px" width="18" height="14" viewBox="-1 -1 18 14"><path d="M0.4 1.6 L15.6 1.6 L8 10.8 Z" fill="none" stroke="#f4ffff" stroke-opacity="0.7" stroke-width="2.8"/><path d="M0.4 1.6 L15.6 1.6 L8 10.8 Z" fill="#de5c38" stroke="#7e1608" stroke-width="1"/><path d="M0.2 1.7 H15.8" stroke="#700000" stroke-width="1.35"/></svg>
<div class="t c dn" style="left:519px;top:407.03px;transform-origin:100.00px 15.37px;transform:translateX(0.00px) scaleX(1.085)">-2,0%</div>
<svg style="left:675.00px;top:409px" width="18" height="14" viewBox="-1 -1 18 14"><path d="M0.4 1.6 L15.6 1.6 L8 10.8 Z" fill="none" stroke="#f4ffff" stroke-opacity="0.7" stroke-width="2.8"/><path d="M0.4 1.6 L15.6 1.6 L8 10.8 Z" fill="#de5c38" stroke="#7e1608" stroke-width="1"/><path d="M0.2 1.7 H15.8" stroke="#700000" stroke-width="1.35"/></svg>
<div class="t c dn" style="left:628.5px;top:407.03px;transform-origin:100.00px 15.37px;transform:translateX(0.70px) scaleX(1.103)">-0,3%</div>
<svg style="left:785.00px;top:409px" width="18" height="14" viewBox="-1 -1 18 14"><path d="M0.4 1.6 L15.6 1.6 L8 10.8 Z" fill="none" stroke="#f4ffff" stroke-opacity="0.7" stroke-width="2.8"/><path d="M0.4 1.6 L15.6 1.6 L8 10.8 Z" fill="#de5c38" stroke="#7e1608" stroke-width="1"/><path d="M0.2 1.7 H15.8" stroke="#700000" stroke-width="1.35"/></svg>
<div class="t c dn" style="left:738.5px;top:407.03px;transform-origin:100.00px 15.37px;transform:translateX(0.35px) scaleX(0.961)">-17,3%</div>
<div class="t" style="left:107px;top:427.26px;letter-spacing:0.27px">EUR/USD</div>
<div class="t c" style="left:298px;top:428.03px;transform-origin:100.12px 15.37px;transform:translateX(1.18px) scaleX(0.880);letter-spacing:-0.25px">1,1741</div>
<svg style="left:455.00px;top:430px" width="18" height="14" viewBox="-1 -1 18 14"><path d="M0.4 1.6 L15.6 1.6 L8 10.8 Z" fill="none" stroke="#f4ffff" stroke-opacity="0.7" stroke-width="2.8"/><path d="M0.4 1.6 L15.6 1.6 L8 10.8 Z" fill="#de5c38" stroke="#7e1608" stroke-width="1"/><path d="M0.2 1.7 H15.8" stroke="#700000" stroke-width="1.35"/></svg>
<div class="t c dn" style="left:409px;top:428.03px;transform-origin:100.00px 15.37px;transform:translateX(0.20px) scaleX(0.990)">-0,1%</div>
<svg style="left:565.00px;top:430px" width="18" height="14" viewBox="-1 -1 18 14"><path d="M8 1.2 L15.6 10.5 L0.4 10.5 Z" fill="none" stroke="#fff" stroke-opacity="0.55" stroke-width="2.6"/><path d="M8 1.2 L15.6 10.5 L0.4 10.5 Z" fill="#68a88c" stroke="#0b4f2e" stroke-width="1"/><path d="M0.2 10.5 H15.8" stroke="#003d20" stroke-width="1"/></svg>
<div class="t c up" style="left:519px;top:428.03px;transform-origin:100.50px 15.37px;transform:translateX(-0.95px) scaleX(0.923)">1,2%</div>
<svg style="left:675.00px;top:430px" width="18" height="14" viewBox="-1 -1 18 14"><path d="M0.4 1.6 L15.6 1.6 L8 10.8 Z" fill="none" stroke="#f4ffff" stroke-opacity="0.7" stroke-width="2.8"/><path d="M0.4 1.6 L15.6 1.6 L8 10.8 Z" fill="#de5c38" stroke="#7e1608" stroke-width="1"/><path d="M0.2 1.7 H15.8" stroke="#700000" stroke-width="1.35"/></svg>
<div class="t c dn" style="left:628.5px;top:428.03px;transform-origin:100.00px 15.37px;transform:translateX(0.40px) scaleX(1.086)">0,0%</div>
<svg style="left:785.00px;top:430px" width="18" height="14" viewBox="-1 -1 18 14"><path d="M8 1.2 L15.6 10.5 L0.4 10.5 Z" fill="none" stroke="#fff" stroke-opacity="0.55" stroke-width="2.6"/><path d="M8 1.2 L15.6 10.5 L0.4 10.5 Z" fill="#68a88c" stroke="#0b4f2e" stroke-width="1"/><path d="M0.2 10.5 H15.8" stroke="#003d20" stroke-width="1"/></svg>
<div class="t c up" style="left:738.5px;top:428.03px;transform-origin:100.00px 15.37px;transform:translateX(0.05px) scaleX(0.988)">12,7%</div>
<div class="g" style="top:446px"></div>
<div class="t" style="left:107px;top:448.26px;letter-spacing:0.23px">Arany</div>
<div class="t c" style="left:298px;top:449.03px;transform-origin:99.50px 15.37px;transform:translateX(0.95px) scaleX(1.069)">4 956</div>
<svg style="left:455.00px;top:451px" width="18" height="14" viewBox="-1 -1 18 14"><path d="M8 1.2 L15.6 10.5 L0.4 10.5 Z" fill="none" stroke="#fff" stroke-opacity="0.55" stroke-width="2.6"/><path d="M8 1.2 L15.6 10.5 L0.4 10.5 Z" fill="#68a88c" stroke="#0b4f2e" stroke-width="1"/><path d="M0.2 10.5 H15.8" stroke="#003d20" stroke-width="1"/></svg>
<div class="t c up" style="left:409px;top:449.03px;transform-origin:100.00px 15.37px;transform:translateX(0.20px) scaleX(1.039)">0,4%</div>
<svg style="left:565.00px;top:451px" width="18" height="14" viewBox="-1 -1 18 14"><path d="M8 1.2 L15.6 10.5 L0.4 10.5 Z" fill="none" stroke="#fff" stroke-opacity="0.55" stroke-width="2.6"/><path d="M8 1.2 L15.6 10.5 L0.4 10.5 Z" fill="#68a88c" stroke="#0b4f2e" stroke-width="1"/><path d="M0.2 10.5 H15.8" stroke="#003d20" stroke-width="1"/></svg>
<div class="t c up" style="left:519px;top:449.03px;transform-origin:100.50px 15.37px;transform:translateX(-0.50px) scaleX(0.994)">7,8%</div>
<svg style="left:675.00px;top:451px" width="18" height="14" viewBox="-1 -1 18 14"><path d="M8 1.2 L15.6 10.5 L0.4 10.5 Z" fill="none" stroke="#fff" stroke-opacity="0.55" stroke-width="2.6"/><path d="M8 1.2 L15.6 10.5 L0.4 10.5 Z" fill="#68a88c" stroke="#0b4f2e" stroke-width="1"/><path d="M0.2 10.5 H15.8" stroke="#003d20" stroke-width="1"/></svg>
<div class="t c up" style="left:628.5px;top:449.03px;transform-origin:100.50px 15.37px;transform:translateX(-0.10px) scaleX(0.941)">14,7%</div>
<svg style="left:785.00px;top:451px" width="18" height="14" viewBox="-1 -1 18 14"><path d="M8 1.2 L15.6 10.5 L0.4 10.5 Z" fill="none" stroke="#fff" stroke-opacity="0.55" stroke-width="2.6"/><path d="M8 1.2 L15.6 10.5 L0.4 10.5 Z" fill="#68a88c" stroke="#0b4f2e" stroke-width="1"/><path d="M0.2 10.5 H15.8" stroke="#003d20" stroke-width="1"/></svg>
<div class="t c up" style="left:738.5px;top:449.03px;transform-origin:100.50px 15.37px;transform:translateX(-0.15px) scaleX(1.016)">79,9%</div>
<div class="t" style="left:107px;top:469.26px;letter-spacing:0.82px">Bitcoin</div>
<div class="t c" style="left:298px;top:470.03px;transform-origin:100.00px 15.37px;transform:translateX(0.55px) scaleX(1.120)">89 465</div>
<svg style="left:455.00px;top:472px" width="18" height="14" viewBox="-1 -1 18 14"><path d="M8 1.2 L15.6 10.5 L0.4 10.5 Z" fill="none" stroke="#fff" stroke-opacity="0.55" stroke-width="2.6"/><path d="M8 1.2 L15.6 10.5 L0.4 10.5 Z" fill="#68a88c" stroke="#0b4f2e" stroke-width="1"/><path d="M0.2 10.5 H15.8" stroke="#003d20" stroke-width="1"/></svg>
<div class="t c up" style="left:409px;top:470.03px;transform-origin:100.00px 15.37px;transform:translateX(0.35px) scaleX(1.031)">0,3%</div>
<svg style="left:565.00px;top:472px" width="18" height="14" viewBox="-1 -1 18 14"><path d="M0.4 1.6 L15.6 1.6 L8 10.8 Z" fill="none" stroke="#f4ffff" stroke-opacity="0.7" stroke-width="2.8"/><path d="M0.4 1.6 L15.6 1.6 L8 10.8 Z" fill="#de5c38" stroke="#7e1608" stroke-width="1"/><path d="M0.2 1.7 H15.8" stroke="#700000" stroke-width="1.35"/></svg>
<div class="t c dn" style="left:519px;top:470.03px;transform-origin:100.00px 15.37px;transform:translateX(0.00px) scaleX(1.045)">-6,2%</div>
<svg style="left:675.00px;top:472px" width="18" height="14" viewBox="-1 -1 18 14"><path d="M8 1.2 L15.6 10.5 L0.4 10.5 Z" fill="none" stroke="#fff" stroke-opacity="0.55" stroke-width="2.6"/><path d="M8 1.2 L15.6 10.5 L0.4 10.5 Z" fill="#68a88c" stroke="#0b4f2e" stroke-width="1"/><path d="M0.2 10.5 H15.8" stroke="#003d20" stroke-width="1"/></svg>
<div class="t c up" style="left:628.5px;top:470.03px;transform-origin:100.00px 15.37px;transform:translateX(0.05px) scaleX(0.934)">2,1%</div>
<svg style="left:785.00px;top:472px" width="18" height="14" viewBox="-1 -1 18 14"><path d="M0.4 1.6 L15.6 1.6 L8 10.8 Z" fill="none" stroke="#f4ffff" stroke-opacity="0.7" stroke-width="2.8"/><path d="M0.4 1.6 L15.6 1.6 L8 10.8 Z" fill="#de5c38" stroke="#7e1608" stroke-width="1"/><path d="M0.2 1.7 H15.8" stroke="#700000" stroke-width="1.35"/></svg>
<div class="t c dn" style="left:738.5px;top:470.03px;transform-origin:100.00px 15.37px;transform:translateX(0.00px) scaleX(0.996)">-13,3%</div>
<div class="g" style="top:488px"></div>
<div class="t" style="left:107px;top:490.26px;letter-spacing:0.40px">Brent olaj</div>
<div class="t c" style="left:298px;top:491.03px;transform-origin:100.00px 15.37px;transform:translateX(0.45px) scaleX(1.077)">64,6</div>
<svg style="left:455.00px;top:493px" width="18" height="14" viewBox="-1 -1 18 14"><path d="M8 1.2 L15.6 10.5 L0.4 10.5 Z" fill="none" stroke="#fff" stroke-opacity="0.55" stroke-width="2.6"/><path d="M8 1.2 L15.6 10.5 L0.4 10.5 Z" fill="#68a88c" stroke="#0b4f2e" stroke-width="1"/><path d="M0.2 10.5 H15.8" stroke="#003d20" stroke-width="1"/></svg>
<div class="t c up" style="left:409px;top:491.03px;transform-origin:100.00px 15.37px;transform:translateX(0.35px) scaleX(1.031)">0,8%</div>
<svg style="left:565.00px;top:493px" width="18" height="14" viewBox="-1 -1 18 14"><path d="M8 1.2 L15.6 10.5 L0.4 10.5 Z" fill="none" stroke="#fff" stroke-opacity="0.55" stroke-width="2.6"/><path d="M8 1.2 L15.6 10.5 L0.4 10.5 Z" fill="#68a88c" stroke="#0b4f2e" stroke-width="1"/><path d="M0.2 10.5 H15.8" stroke="#003d20" stroke-width="1"/></svg>
<div class="t c up" style="left:519px;top:491.03px;transform-origin:100.00px 15.37px;transform:translateX(-0.35px) scaleX(1.008)">0,7%</div>
<svg style="left:675.00px;top:493px" width="18" height="14" viewBox="-1 -1 18 14"><path d="M8 1.2 L15.6 10.5 L0.4 10.5 Z" fill="none" stroke="#fff" stroke-opacity="0.55" stroke-width="2.6"/><path d="M8 1.2 L15.6 10.5 L0.4 10.5 Z" fill="#68a88c" stroke="#0b4f2e" stroke-width="1"/><path d="M0.2 10.5 H15.8" stroke="#003d20" stroke-width="1"/></svg>
<div class="t c up" style="left:628.5px;top:491.03px;transform-origin:100.00px 15.37px;transform:translateX(0.05px) scaleX(0.934)">6,1%</div>
<svg style="left:785.00px;top:493px" width="18" height="14" viewBox="-1 -1 18 14"><path d="M0.4 1.6 L15.6 1.6 L8 10.8 Z" fill="none" stroke="#f4ffff" stroke-opacity="0.7" stroke-width="2.8"/><path d="M0.4 1.6 L15.6 1.6 L8 10.8 Z" fill="#de5c38" stroke="#7e1608" stroke-width="1"/><path d="M0.2 1.7 H15.8" stroke="#700000" stroke-width="1.35"/></svg>
<div class="t c dn" style="left:738.5px;top:491.03px;transform-origin:100.00px 15.37px;transform:translateX(0.30px) scaleX(0.959)">-17,5%</div>
<div class="t" style="left:107px;top:511.26px;letter-spacing:0.06px">USA 10 éves hozam</div>
<div class="t c" style="left:298px;top:512.03px;transform-origin:100.00px 15.37px;transform:translateX(0.80px) scaleX(1.059)">4,24%</div>
<svg style="left:455.00px;top:514px" width="18" height="14" viewBox="-1 -1 18 14"><path d="M0.4 1.6 L15.6 1.6 L8 10.8 Z" fill="none" stroke="#f4ffff" stroke-opacity="0.7" stroke-width="2.8"/><path d="M0.4 1.6 L15.6 1.6 L8 10.8 Z" fill="#de5c38" stroke="#7e1608" stroke-width="1"/><path d="M0.2 1.7 H15.8" stroke="#700000" stroke-width="1.35"/></svg>
<div class="t c dn" style="left:409px;top:512.03px;transform-origin:100.00px 15.37px;transform:translateX(-0.25px) scaleX(1.026)">-1 bp</div>
<svg style="left:565.00px;top:514px" width="18" height="14" viewBox="-1 -1 18 14"><path d="M8 1.2 L15.6 10.5 L0.4 10.5 Z" fill="none" stroke="#fff" stroke-opacity="0.55" stroke-width="2.6"/><path d="M8 1.2 L15.6 10.5 L0.4 10.5 Z" fill="#68a88c" stroke="#0b4f2e" stroke-width="1"/><path d="M0.2 10.5 H15.8" stroke="#003d20" stroke-width="1"/></svg>
<div class="t c up" style="left:519px;top:512.03px;transform-origin:100.50px 15.37px;transform:translateX(-0.80px) scaleX(0.979)">1 bp</div>
<svg style="left:675.00px;top:514px" width="18" height="14" viewBox="-1 -1 18 14"><path d="M8 1.2 L15.6 10.5 L0.4 10.5 Z" fill="none" stroke="#fff" stroke-opacity="0.55" stroke-width="2.6"/><path d="M8 1.2 L15.6 10.5 L0.4 10.5 Z" fill="#68a88c" stroke="#0b4f2e" stroke-width="1"/><path d="M0.2 10.5 H15.8" stroke="#003d20" stroke-width="1"/></svg>
<div class="t c up" style="left:628.5px;top:512.03px;transform-origin:100.00px 15.37px;transform:translateX(-0.65px) scaleX(1.107)">7 bp</div>
<svg style="left:785.00px;top:514px" width="18" height="14" viewBox="-1 -1 18 14"><path d="M0.4 1.6 L15.6 1.6 L8 10.8 Z" fill="none" stroke="#f4ffff" stroke-opacity="0.7" stroke-width="2.8"/><path d="M0.4 1.6 L15.6 1.6 L8 10.8 Z" fill="#de5c38" stroke="#7e1608" stroke-width="1"/><path d="M0.2 1.7 H15.8" stroke="#700000" stroke-width="1.35"/></svg>
<div class="t c dn" style="left:738.5px;top:512.03px;transform-origin:100.00px 15.37px;transform:translateX(0.00px) scaleX(1.028)">-41 bp</div>
<div class="g" style="top:530px"></div>
<div class="t" style="left:107px;top:532.26px;letter-spacing:0.14px">Német 10 éves hozam</div>
<div class="t c" style="left:298px;top:533.03px;transform-origin:100.00px 15.37px;transform:translateX(0.65px) scaleX(1.066)">2,89%</div>
<svg style="left:455.00px;top:535px" width="18" height="14" viewBox="-1 -1 18 14"><path d="M8 1.2 L15.6 10.5 L0.4 10.5 Z" fill="none" stroke="#fff" stroke-opacity="0.55" stroke-width="2.6"/><path d="M8 1.2 L15.6 10.5 L0.4 10.5 Z" fill="#68a88c" stroke="#0b4f2e" stroke-width="1"/><path d="M0.2 10.5 H15.8" stroke="#003d20" stroke-width="1"/></svg>
<div class="t c up" style="left:409px;top:533.03px;transform-origin:100.50px 15.37px;transform:translateX(-1.00px) scaleX(0.979)">1 bp</div>
<svg style="left:565.00px;top:535px" width="18" height="14" viewBox="-1 -1 18 14"><path d="M8 1.2 L15.6 10.5 L0.4 10.5 Z" fill="none" stroke="#fff" stroke-opacity="0.55" stroke-width="2.6"/><path d="M8 1.2 L15.6 10.5 L0.4 10.5 Z" fill="#68a88c" stroke="#0b4f2e" stroke-width="1"/><path d="M0.2 10.5 H15.8" stroke="#003d20" stroke-width="1"/></svg>
<div class="t c up" style="left:519px;top:533.03px;transform-origin:100.00px 15.37px;transform:translateX(-0.25px) scaleX(1.030)">7 bp</div>
<svg style="left:675.00px;top:535px" width="18" height="14" viewBox="-1 -1 18 14"><path d="M8 1.2 L15.6 10.5 L0.4 10.5 Z" fill="none" stroke="#fff" stroke-opacity="0.55" stroke-width="2.6"/><path d="M8 1.2 L15.6 10.5 L0.4 10.5 Z" fill="#68a88c" stroke="#0b4f2e" stroke-width="1"/><path d="M0.2 10.5 H15.8" stroke="#003d20" stroke-width="1"/></svg>
<div class="t c up" style="left:628.5px;top:533.03px;transform-origin:100.00px 15.37px;transform:translateX(-0.15px) scaleX(1.141)">3 bp</div>
<svg style="left:785.00px;top:535px" width="18" height="14" viewBox="-1 -1 18 14"><path d="M8 1.2 L15.6 10.5 L0.4 10.5 Z" fill="none" stroke="#fff" stroke-opacity="0.55" stroke-width="2.6"/><path d="M8 1.2 L15.6 10.5 L0.4 10.5 Z" fill="#68a88c" stroke="#0b4f2e" stroke-width="1"/><path d="M0.2 10.5 H15.8" stroke="#003d20" stroke-width="1"/></svg>
<div class="t c up" style="left:738.5px;top:533.03px;transform-origin:100.00px 15.37px;transform:translateX(0.20px) scaleX(1.108)">36 bp</div>
<div class="t" style="left:107px;top:553.26px;letter-spacing:0.11px">Magyar 10 éves hozam</div>
<div class="t c" style="left:298px;top:554.03px;transform-origin:100.00px 15.37px;transform:translateX(0.80px) scaleX(1.059)">6,69%</div>
<svg style="left:455.00px;top:556px" width="18" height="14" viewBox="-1 -1 18 14"><path d="M0.4 1.6 L15.6 1.6 L8 10.8 Z" fill="none" stroke="#f4ffff" stroke-opacity="0.7" stroke-width="2.8"/><path d="M0.4 1.6 L15.6 1.6 L8 10.8 Z" fill="#de5c38" stroke="#7e1608" stroke-width="1"/><path d="M0.2 1.7 H15.8" stroke="#700000" stroke-width="1.35"/></svg>
<div class="t c dn" style="left:409px;top:554.03px;transform-origin:100.00px 15.37px;transform:translateX(-0.25px) scaleX(1.126)">-4 bp</div>
<svg style="left:565.00px;top:556px" width="18" height="14" viewBox="-1 -1 18 14"><path d="M0.4 1.6 L15.6 1.6 L8 10.8 Z" fill="none" stroke="#f4ffff" stroke-opacity="0.7" stroke-width="2.8"/><path d="M0.4 1.6 L15.6 1.6 L8 10.8 Z" fill="#de5c38" stroke="#7e1608" stroke-width="1"/><path d="M0.2 1.7 H15.8" stroke="#700000" stroke-width="1.35"/></svg>
<div class="t c dn" style="left:519px;top:554.03px;transform-origin:100.00px 15.37px;transform:translateX(-0.30px) scaleX(1.112)">-2 bp</div>
<svg style="left:675.00px;top:556px" width="18" height="14" viewBox="-1 -1 18 14"><path d="M0.4 1.6 L15.6 1.6 L8 10.8 Z" fill="none" stroke="#f4ffff" stroke-opacity="0.7" stroke-width="2.8"/><path d="M0.4 1.6 L15.6 1.6 L8 10.8 Z" fill="#de5c38" stroke="#7e1608" stroke-width="1"/><path d="M0.2 1.7 H15.8" stroke="#700000" stroke-width="1.35"/></svg>
<div class="t c dn" style="left:628.5px;top:554.03px;transform-origin:100.00px 15.37px;transform:translateX(-0.25px) scaleX(1.053)">-10 bp</div>
<svg style="left:785.00px;top:556px" width="18" height="14" viewBox="-1 -1 18 14"><path d="M0.4 1.6 L15.6 1.6 L8 10.8 Z" fill="none" stroke="#f4ffff" stroke-opacity="0.7" stroke-width="2.8"/><path d="M0.4 1.6 L15.6 1.6 L8 10.8 Z" fill="#de5c38" stroke="#7e1608" stroke-width="1"/><path d="M0.2 1.7 H15.8" stroke="#700000" stroke-width="1.35"/></svg>
<div class="t c dn" style="left:738.5px;top:554.03px;transform-origin:100.00px 15.37px;transform:translateX(0.00px) scaleX(1.028)">-14 bp</div>
<div class="t" style="left:589px;top:574px;width:300px;text-align:right;color:#595959;letter-spacing:0.1px;font-size:15.3px;text-rendering:geometricPrecision">Forrás: Bloomberg, K&amp;H Értékpapír</div>
</body></html>
